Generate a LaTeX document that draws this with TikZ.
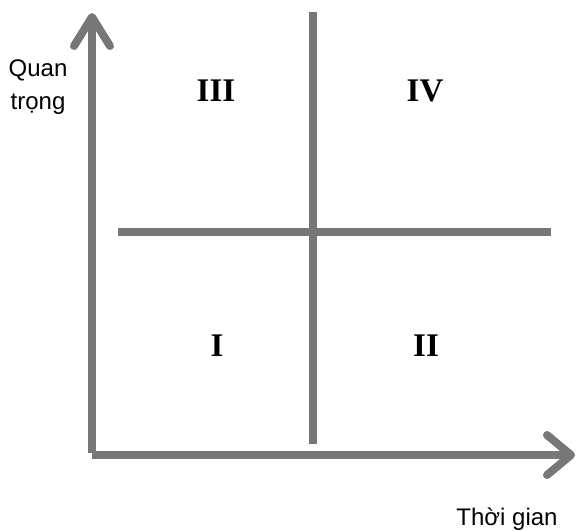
\documentclass[tikz,border=0pt]{standalone}
\usepackage{fontspec}
\newfontfamily\labelfont{Liberation Sans}
\newfontfamily\numfont{Liberation Serif}
\definecolor{axisgray}{HTML}{777777}
\begin{document}
\begin{tikzpicture}[x=1pt,y=-1pt,
  thick line/.style={draw=axisgray,line width=8pt},
  chevron/.style={draw=axisgray,line width=8pt,line cap=round,line join=round},
  axislabel/.style={font=\labelfont\fontsize{24}{33}\selectfont,inner sep=0pt,align=center},
  numeral/.style={font=\numfont\bfseries\fontsize{33}{36}\selectfont,inner sep=0pt}]
\useasboundingbox (0,0) rectangle (577,530);
% axes
\coordinate (origin) at (92,455);
\coordinate (ytop) at (92,17);
\coordinate (xend) at (571,455);
\coordinate (ybottom) at (92,453);
\draw[thick line] (ybottom) -- (ytop);
\draw[thick line] (origin) -- (xend);
\coordinate (yarmL) at (74,46);
\coordinate (yarmR) at (110,46);
\draw[chevron] (yarmL) -- (ytop) -- (yarmR);
\coordinate (xarmT) at (547,435);
\coordinate (xarmB) at (547,475);
\draw[chevron] (xarmT) -- (xend) -- (xarmB);
% dividers
\coordinate (vtop) at (313,12);
\coordinate (vbot) at (313,444);
\coordinate (hleft) at (118,232);
\coordinate (hright) at (551,232);
\draw[thick line] (vtop) -- (vbot);
\draw[thick line] (hleft) -- (hright);
% labels
\node[axislabel] (ylabel) at (38,87) {Quan\\trọng};
\node[axislabel,anchor=base] (xlabel) at (507,525) {Thời gian};
\node[numeral] (q3) at (216,91) {III};
\node[numeral] (q4) at (425,91) {IV};
\node[numeral] (q1) at (217,346) {I};
\node[numeral] (q2) at (426,346) {II};
\end{tikzpicture}
\end{document}
